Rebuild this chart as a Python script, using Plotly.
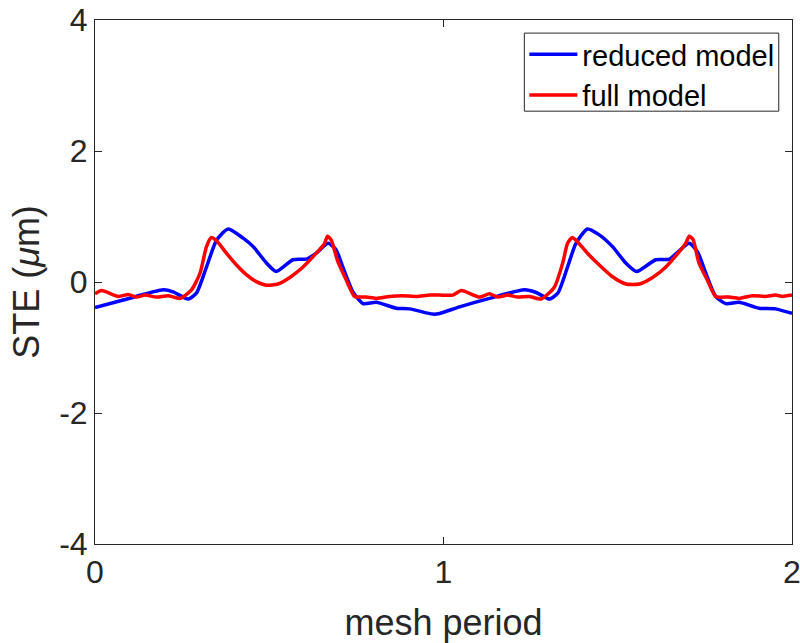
import plotly.graph_objects as go

# Static transmission error over two mesh periods
x_reduced = [0.0, 0.081, 0.196, 0.224, 0.267, 0.291, 0.32, 0.349, 0.382, 0.425, 0.454,
             0.492, 0.52, 0.568, 0.607, 0.635, 0.669, 0.692, 0.711, 0.74, 0.769, 0.807,
             0.864, 0.903, 0.969, 0.989, 1.046, 1.132, 1.232, 1.266, 1.304, 1.328, 1.356,
             1.38, 1.413, 1.447, 1.485, 1.523, 1.554, 1.609, 1.648, 1.705, 1.729, 1.753,
             1.781, 1.81, 1.848, 1.905, 1.953, 2.0]
ste_reduced = [-0.39, -0.275, -0.12, -0.15, -0.26, -0.17, 0.23, 0.64, 0.81, 0.67, 0.54,
               0.29, 0.16, 0.34, 0.35, 0.44, 0.59, 0.49, 0.23, -0.15, -0.33, -0.31,
               -0.40, -0.41, -0.49, -0.48, -0.38, -0.25, -0.12, -0.16, -0.26, -0.17, 0.23,
               0.59, 0.81, 0.72, 0.54, 0.29, 0.16, 0.34, 0.35, 0.59, 0.46, 0.13,
               -0.22, -0.33, -0.31, -0.40, -0.41, -0.48]

x_full = [0.0, 0.019, 0.067, 0.096, 0.119, 0.143, 0.177, 0.21, 0.244, 0.277, 0.301, 0.32,
          0.334, 0.349, 0.377, 0.406, 0.435, 0.463, 0.492, 0.525, 0.559, 0.597, 0.635,
          0.659, 0.667, 0.678, 0.697, 0.721, 0.745, 0.778, 0.807, 0.845, 0.883, 0.922,
          0.96, 0.989, 1.027, 1.051, 1.103, 1.132, 1.156, 1.184, 1.213, 1.246, 1.28,
          1.318, 1.342, 1.356, 1.369, 1.38, 1.413, 1.447, 1.485, 1.523, 1.562, 1.6,
          1.638, 1.676, 1.695, 1.705, 1.716, 1.733, 1.757, 1.781, 1.819, 1.848, 1.886,
          1.924, 1.953, 1.972, 2.0]
ste_full = [-0.18, -0.13, -0.22, -0.19, -0.23, -0.20, -0.23, -0.21, -0.25, -0.12, 0.13, 0.54,
            0.68, 0.63, 0.44, 0.26, 0.11, 0.005, -0.05, -0.03, 0.07, 0.23, 0.44,
            0.59, 0.70, 0.64, 0.31, 0.03, -0.22, -0.23, -0.25, -0.22, -0.21, -0.22,
            -0.20, -0.20, -0.20, -0.13, -0.23, -0.18, -0.23, -0.20, -0.23, -0.22, -0.26,
            -0.08, 0.29, 0.59, 0.68, 0.64, 0.44, 0.26, 0.08, -0.03, -0.03, 0.07,
            0.23, 0.46, 0.59, 0.70, 0.65, 0.29, 0.03, -0.22, -0.23, -0.25, -0.21,
            -0.22, -0.20, -0.22, -0.20]

x_ticks = [0, 1, 2]
y_ticks = [-4, -2, 0, 2, 4]

AXIS_COLOR = "#262626"
FONT = "Liberation Sans, Arial, Helvetica, sans-serif"

fig = go.Figure()
fig.add_trace(go.Scatter(x=x_reduced, y=ste_reduced, mode="lines", name="reduced model",
                         line=dict(color="#0000FF", width=3.5, shape="spline", smoothing=0.6)))
fig.add_trace(go.Scatter(x=x_full, y=ste_full, mode="lines", name="full model",
                         line=dict(color="#FF0000", width=3.5, shape="spline", smoothing=0.6)))

axis_common = dict(
    showgrid=False, zeroline=False, showline=True, linecolor=AXIS_COLOR, linewidth=1,
    mirror="ticks", ticks="inside", ticklen=7, tickcolor=AXIS_COLOR,
    tickfont=dict(family=FONT, size=32, color=AXIS_COLOR),
    automargin=False, ticklabeloverflow="allow",
)

# Legend frame drawn as a paper-space rectangle
fig.add_shape(type="rect", xref="paper", yref="paper",
              x0=0.616, x1=0.981, y0=0.826, y1=0.975,
              line=dict(color=AXIS_COLOR, width=1), fillcolor="white", layer="below")

fig.update_layout(
    width=800, height=643,
    margin=dict(l=95, r=8, t=20, b=99),
    paper_bgcolor="white", plot_bgcolor="rgba(0,0,0,0)",
    xaxis=dict(range=[0, 2], tickvals=x_ticks, ticktext=[str(v) for v in x_ticks],
               title=dict(text="mesh period", font=dict(family=FONT, size=36, color=AXIS_COLOR),
                          standoff=21),
               **axis_common),
    yaxis=dict(range=[-4, 4], tickvals=y_ticks, ticktext=[str(v) for v in y_ticks],
               title=dict(text="STE (<i>μ</i>m)", font=dict(family=FONT, size=36, color=AXIS_COLOR),
                          standoff=8),
               **axis_common),
    legend=dict(x=0.616, y=0.983, xanchor="left", yanchor="top",
                bgcolor="rgba(0,0,0,0)", borderwidth=0,
                font=dict(family=FONT, size=29, color="black"),
                itemwidth=48, tracegroupgap=0),
    showlegend=True,
)

fig.write_html("out.html")
